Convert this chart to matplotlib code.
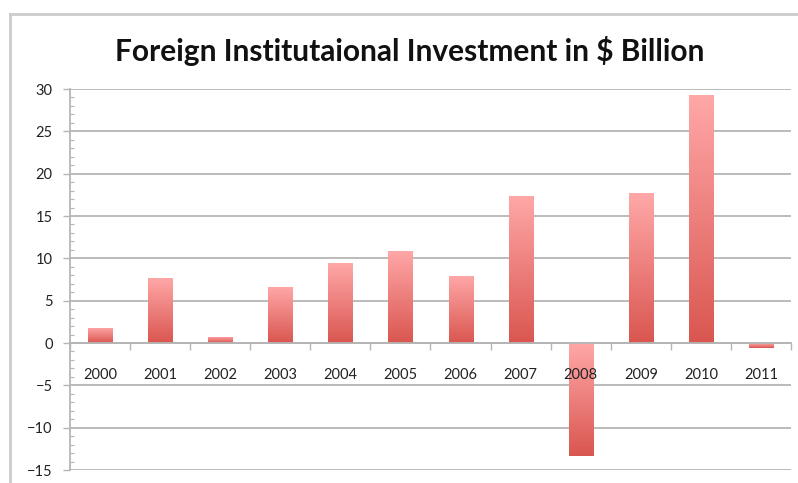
import numpy as np
import matplotlib.pyplot as plt
from matplotlib.colors import LinearSegmentedColormap
from matplotlib.lines import Line2D

# data
years = ['2000', '2001', '2002', '2003', '2004', '2005',
         '2006', '2007', '2008', '2009', '2010', '2011']
fii = [1.8, 7.7, 0.75, 6.65, 9.4, 10.9, 7.95, 17.4, -13.35, 17.7, 29.3, -0.55]

plt.rcParams['font.family'] = ['Lato', 'DejaVu Sans']

fig = plt.figure(figsize=(7.98, 4.83), dpi=100)
ax = fig.add_axes([0.0877, 0.0269, 0.9035, 0.7888])

gray = '#b5b5b5'
yticks = list(range(-15, 31, 5))

# horizontal gridlines under the bars
for v in yticks:
    ax.axhline(v, color=gray, linewidth=1.3, zorder=0.5)

x = np.arange(len(years))
bars = ax.bar(x, fii, width=0.4, color='none', edgecolor='none', zorder=1)

# vertical gradient inside each bar (light on top, darker at the bottom)
cmap = LinearSegmentedColormap.from_list('redgrad', ['#ffa8a8', '#da5650'])
grad = np.linspace(0, 1, 256).reshape(-1, 1)
for b in bars:
    bx, by = b.get_x(), b.get_y()
    bw, bh = b.get_width(), b.get_height()
    lo, hi = min(by, by + bh), max(by, by + bh)
    im = ax.imshow(grad, cmap=cmap, aspect='auto', origin='upper',
                   extent=[bx, bx + bw, lo, hi], zorder=1)
    im.set_clip_path(b)

ax.set_xlim(-0.5, len(years) - 0.5)
ax.set_ylim(-15, 30)

ax.set_yticks(yticks)
ax.set_yticks(range(-15, 31, 1), minor=True)
ax.tick_params(axis='y', which='major', direction='out', length=5, width=1,
               color=gray, pad=7.5, labelsize=10.5, labelcolor='#222222')
ax.tick_params(axis='y', which='minor', direction='in', length=3, width=0.8,
               color=gray)

# category axis at zero, ticks between categories
ax.set_xticks(np.arange(-0.5, len(years), 1.0))
ax.set_xticklabels([])
ax.set_xticks(x, minor=True)
ax.set_xticklabels(years, minor=True)
ax.tick_params(axis='x', which='major', direction='out', length=5, width=1,
               color=gray)
ax.tick_params(axis='x', which='minor', length=0, pad=18, labelsize=10.5,
               labelcolor='#222222')

ax.spines['bottom'].set_position(('data', 0))
ax.spines['bottom'].set_color(gray)
ax.spines['bottom'].set_linewidth(1.3)
ax.spines['left'].set_color(gray)
ax.spines['left'].set_linewidth(1.3)
ax.spines['top'].set_visible(False)
ax.spines['right'].set_visible(False)

fig.text(0.514, 0.895, 'Foreign Institutaional Investment in $ Billion',
         ha='center', va='center', fontsize=21.5, fontweight='bold',
         color='#111111')

# outer chart frame (cut off at the right and bottom)
fig.add_artist(Line2D([10 / 798, 10 / 798], [0, 1 - 14 / 483],
                      color='#cccccc', linewidth=2))
fig.add_artist(Line2D([10 / 798, 1], [1 - 14 / 483, 1 - 14 / 483],
                      color='#cccccc', linewidth=2))

fig.savefig('out.png', dpi=100, facecolor='white')
